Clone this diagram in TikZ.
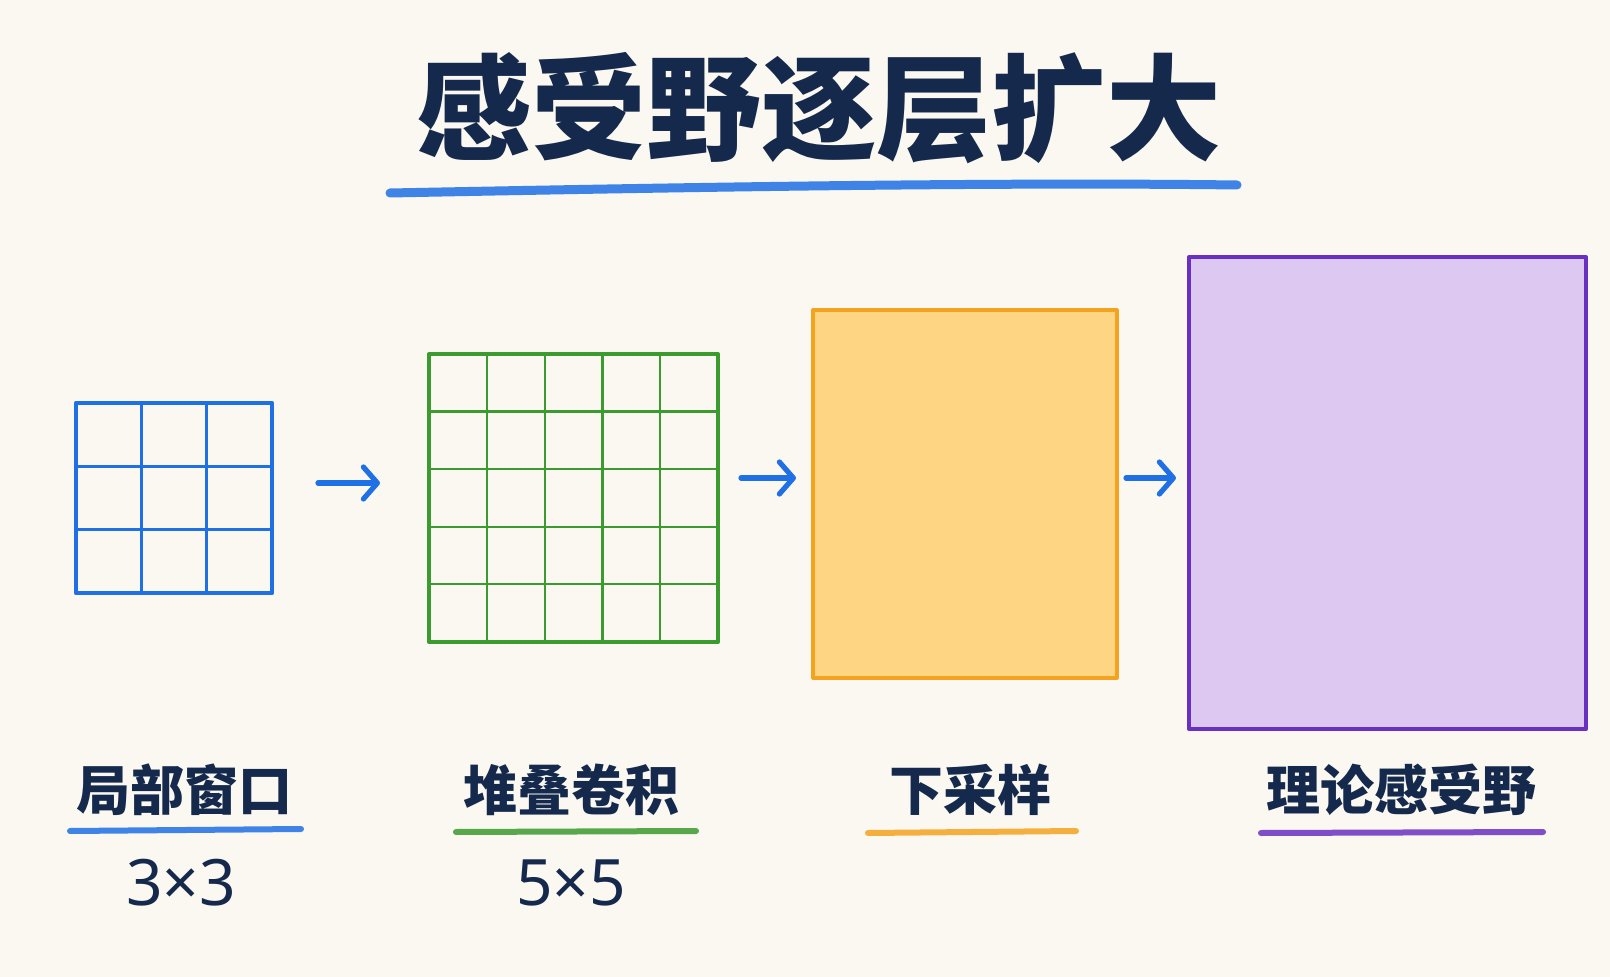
\documentclass[tikz,border=0pt]{standalone}
\usepackage{fontspec}
\usetikzlibrary{arrows.meta}
\newfontfamily\cjk{Noto Sans CJK SC}
\newfontfamily\numfont{Noto Sans}
\definecolor{paper}{HTML}{FAF8F0}
\definecolor{ink}{HTML}{15294C}
\definecolor{winblue}{HTML}{1F6FE5}
\definecolor{convgreen}{HTML}{3C9B2F}
\definecolor{poolorange}{HTML}{F5A31F}
\definecolor{poolfill}{HTML}{FDD583}
\definecolor{rfpurple}{HTML}{6A30C2}
\definecolor{rffill}{HTML}{DDC8F1}
\tikzset{
	>={Straight Barb[round, length=7pt, width=16pt, line width=2.6pt]},
	headline/.style={font=\cjk\bfseries\fontsize{57.5}{60}\selectfont, text=ink, inner sep=0pt},
	stagename/.style={font=\cjk\bfseries\fontsize{27}{30}\selectfont, text=ink, inner sep=0pt},
	sizetext/.style={font=\numfont\fontsize{32}{36}\selectfont, text=ink, inner sep=0pt},
	marker/.style={line width=3pt, line cap=round, opacity=0.85},
	stepline/.style={line width=2.6pt, line cap=round, line join=round}
}
\begin{document}
\begin{tikzpicture}[x=0.5pt, y=-0.5pt]

		% paper
		\fill[paper] (0,0) rectangle (1610,977);
		\useasboundingbox (0,0) rectangle (1610,977);

		% title
		\node[headline] (title) at (819,108) {感受野逐层扩大};
		\draw[marker, winblue, line width=4.5pt] (390,193) .. controls (700,187) and (1000,182) .. (1237,185);

		% 3x3 window
		\draw[winblue, line width=2.3pt, line join=round] (76,403) rectangle (272,593);
		\draw[winblue, line width=1.4pt]
		(141.3,403) -- (141.3,593)
		(206.7,403) -- (206.7,593)
		(76,466.3)  -- (272,466.3)
		(76,529.7)  -- (272,529.7);

		% 5x5 stacked conv
		\draw[convgreen, line width=2pt, line join=round] (429,354) rectangle (718,642);
		\draw[convgreen, line width=1.1pt]
		(486.8,354) -- (486.8,642)
		(544.6,354) -- (544.6,642)
		(602.4,354) -- (602.4,642)
		(660.2,354) -- (660.2,642)
		(429,411.6) -- (718,411.6)
		(429,469.2) -- (718,469.2)
		(429,526.8) -- (718,526.8)
		(429,584.4) -- (718,584.4);

		% downsampling
		\draw[poolorange, fill=poolfill, line width=1.6pt, line join=round] (813,310) rectangle (1117,678);

		% theoretical receptive field
		\draw[rfpurple, fill=rffill, line width=2pt, line join=round] (1189,257) rectangle (1586,729);

		% arrows
		\coordinate (a1s) at (318,483);
		\coordinate (a1e) at (380,483);
		\coordinate (a2s) at (741,478);
		\coordinate (a2e) at (796,478);
		\coordinate (a3s) at (1126,478);
		\coordinate (a3e) at (1176,478);
		\draw[->, stepline, winblue] (a1s) -- (a1e);
		\draw[->, stepline, winblue] (a2s) -- (a2e);
		\draw[->, stepline, winblue] (a3s) -- (a3e);

		% labels
		\node[stagename] (win)  at (184,790) {局部窗口};
		\node[stagename] (conv) at (571,790) {堆叠卷积};
		\node[stagename] (pool) at (970,790) {下采样};
		\node[stagename] (rf)   at (1401,790) {理论感受野};
		\draw[marker, winblue]    (70,831)  -- (301,829);
		\draw[marker, convgreen]  (456,832) -- (696,831);
		\draw[marker, poolorange] (868,833) -- (1076,831);
		\draw[marker, rfpurple]   (1261,833) -- (1543,832);
		\node[sizetext] (winsize)  at (181,883) {3×3};
		\node[sizetext] (convsize) at (571,883) {5×5};

\end{tikzpicture}
\end{document}
